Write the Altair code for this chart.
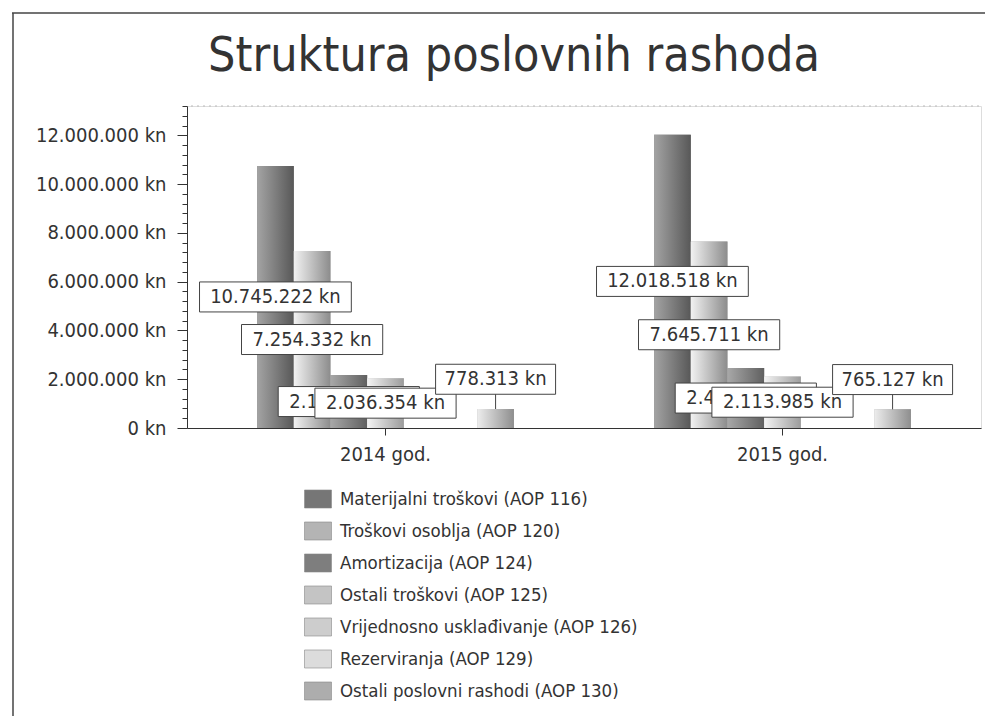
import altair as alt
import pandas as pd

# ---------------- data ----------------
years = ["2014 god.", "2015 god."]
series = [
    "Materijalni troškovi (AOP 116)",
    "Troškovi osoblja (AOP 120)",
    "Amortizacija (AOP 124)",
    "Ostali troškovi (AOP 125)",
    "Vrijednosno usklađivanje (AOP 126)",
    "Rezerviranja (AOP 129)",
    "Ostali poslovni rashodi (AOP 130)",
]
values_2014 = [10745222, 7254332, 2168000, 2036354, 0, 0, 778313]
values_2015 = [12018518, 7645711, 2455000, 2113985, 0, 0, 765127]

# ---------------- styling ----------------
solid_colors = ["#767676", "#b4b4b4", "#7e7e7e", "#c4c4c4", "#cdcdcd", "#dcdcdc", "#adadad"]
grad_light = ["#a4a4a4", "#f2f2f2", "#a8a8a8", "#f4f4f4", "#f6f6f6", "#ffffff", "#ededed"]
grad_dark = ["#585858", "#8c8c8c", "#606060", "#9c9c9c", "#a8a8a8", "#b8b8b8", "#8e8e8e"]

FONT = "DejaVu Sans Condensed, DejaVu Sans, sans-serif"
TXT = "#333333"

rows = []
for yr, vals in zip(years, [values_2014, values_2015]):
    for i, (s, v) in enumerate(zip(series, vals)):
        rows.append({"year": yr, "series": s, "order": i, "value": v})
df = pd.DataFrame(rows)

x_axis = alt.Axis(title=None, labelFont=FONT, labelFontSize=20, labelColor=TXT,
                  labelAngle=0, domainColor="#333", tickColor="#333", tickSize=7,
                  labelPadding=9, grid=False)
x_scale = alt.Scale(domain=years, paddingInner=0.353, paddingOuter=0.1765)
xo_scale = alt.Scale(domain=series, paddingInner=0, paddingOuter=0)

y_axis = alt.Axis(
    title=None,
    values=list(range(0, 13200001, 400000)),
    labelExpr="datum.value % 2000000 === 0 ? replace(format(datum.value, ',.0f'), /,/g, '.') + ' kn' : ''",
    labelFont=FONT, labelFontSize=20, labelColor=TXT,
    domainColor="#333", tickColor="#333",
    tickSize={"condition": {"test": "datum.value % 2000000 === 0", "value": 10}, "value": 5},
    labelPadding=11, grid=False,
)
y_scale = alt.Scale(domain=[0, 13200000], nice=False, zero=True)


def X():
    return alt.X("year:N", sort=years, scale=x_scale, axis=x_axis)


def XO():
    return alt.XOffset("series:N", sort=series, scale=xo_scale)


def Y(field):
    return alt.Y(field, scale=y_scale, axis=y_axis)


base = alt.Chart(df)

layers = []

# solid bars (provide legend)
layers.append(
    base.mark_bar().encode(
        x=X(), xOffset=XO(), y=Y("value:Q"),
        color=alt.Color(
            "series:N", sort=series,
            scale=alt.Scale(domain=series, range=solid_colors),
            legend=alt.Legend(
                title=None, orient="none", legendX=117, legendY=379,
                symbolType="M-1,-0.667H1V0.667H-1Z", symbolSize=729,
                symbolStrokeColor="#888", symbolStrokeWidth=0.6,
                labelFont=FONT, labelFontSize=18.5, labelColor=TXT,
                labelOffset=8, rowPadding=7, labelLimit=600, padding=0,
            ),
        ),
    )
)

# gradient overlays
for i, s in enumerate(series):
    grad = {
        "gradient": "linear", "x1": 0, "x2": 1, "y1": 0, "y2": 0,
        "stops": [{"offset": 0, "color": grad_light[i]}, {"offset": 1, "color": grad_dark[i]}],
    }
    layers.append(
        base.transform_filter(alt.datum.series == s)
        .mark_bar(color=grad)
        .encode(x=X(), xOffset=XO(), y=Y("value:Q"))
    )

label_calc = dict(
    label="replace(format(datum.value, ',.0f'), /,/g, '.') + ' kn'",
    ly="datum.value >= 1500000 ? datum.value / 2 : datum.value + 1220000",
)
box_calc = dict(
    w="10.6 * length(datum.label) + 14",
)
path_calc = dict(
    path="'M' + (-datum.w / 2) + ',-15H' + (datum.w / 2) + 'V15H' + (-datum.w / 2) + 'Z'",
)

# leader lines for small values
layers.append(
    base.transform_filter((alt.datum.value > 0) & (alt.datum.value < 1500000))
    .transform_calculate(**label_calc)
    .mark_rule(color="#444", strokeWidth=1)
    .encode(x=X(), xOffset=XO(), y=Y("value:Q"), y2="ly:Q")
)

# labels (box + text per series to keep correct overlap)
for s in series:
    lab = (
        base.transform_filter((alt.datum.series == s) & (alt.datum.value > 0))
        .transform_calculate(**label_calc)
        .transform_calculate(**box_calc)
        .transform_calculate(**path_calc)
    )
    layers.append(
        lab.mark_point(filled=True, color="white", stroke="#444", strokeWidth=1,
                       opacity=1, size=4)
        .encode(x=X(), xOffset=XO(), y=Y("ly:Q"),
                shape=alt.Shape("path:N", scale=None, legend=None))
    )
    layers.append(
        lab.mark_text(font=FONT, fontSize=20, color=TXT, align="center", baseline="middle")
        .encode(x=X(), xOffset=XO(), y=Y("ly:Q"), text="label:N")
    )

# frame and decorations
one = alt.Data(values=[{}])
layers.append(
    alt.Chart(one).mark_rule(color="#444", strokeWidth=1.5)
    .encode(x=alt.value(-175), x2=alt.value(798), y=alt.value(-93))
)
layers.append(
    alt.Chart(one).mark_rule(color="#444", strokeWidth=1.5)
    .encode(x=alt.value(-174), y=alt.value(-93), y2=alt.value(610))
)
layers.append(
    alt.Chart(one).mark_rule(color="#bbb", strokeWidth=1, strokeDash=[2, 4])
    .encode(x=alt.value(4), x2=alt.value(794), y=alt.value(0))
)

chart = (
    alt.layer(*layers)
    .properties(
        width=794, height=322,
        padding={"left": 179, "top": 98, "right": 5, "bottom": 288},
        autosize=alt.AutoSizeParams(type="none"),
        title=alt.TitleParams(
            "Struktura poslovnih rashoda", font=FONT, fontSize=48, fontWeight="normal",
            color=TXT, anchor="middle", dx=-70, offset=-107, baseline="alphabetic",
            frame="group",
        ),
    )
    .configure_view(stroke=None)
    .configure(background="white")
)

chart.save("out.html", embed_options={"renderer": "svg", "actions": False})
